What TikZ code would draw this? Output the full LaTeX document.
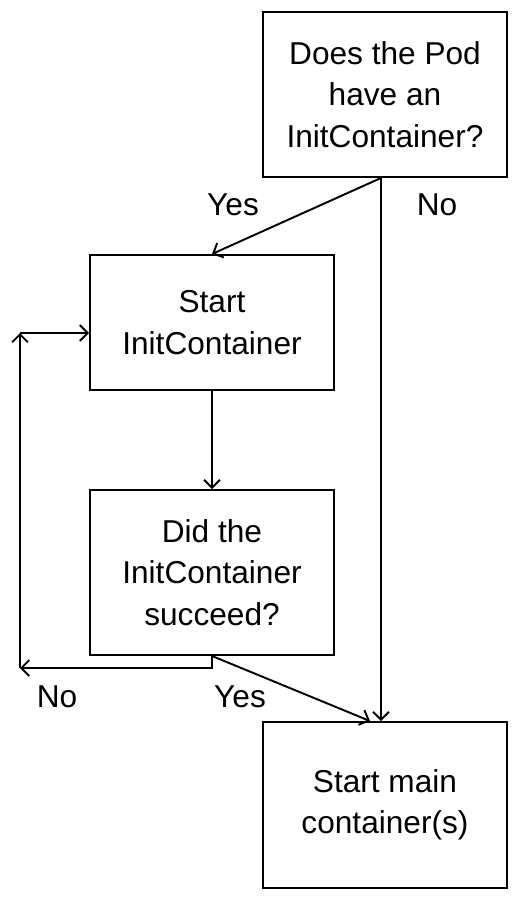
\documentclass[tikz,border=0pt]{standalone}
\usepackage{fontspec}
\setmainfont{Liberation Sans}
\usepackage{tikz}
\usetikzlibrary{arrows.meta}
\tikzset{
	step box/.style={rectangle,draw,line width=1.1pt,minimum width=4.88cm,align=center,
		font=\fontsize{18}{23.5}\selectfont},
	answer/.style={font=\fontsize{18}{22}\selectfont}
}

\begin{document}
\begin{tikzpicture}[->,>={Straight Barb[length=4.5pt,width=9pt]},line width=1.1pt]
	\useasboundingbox (0,0) rectangle (10.38,-17.98);
	\node [step box,minimum height=3.3cm] (pod) at (7.7,-1.89) {Does the Pod\\have an\\InitContainer?};
	\node [step box,minimum height=2.7cm] (init) at (4.24,-6.45) {Start\\InitContainer};
	\node [step box,minimum height=3.3cm] (ok) at (4.24,-11.45) {Did the\\InitContainer\\succeed?};
	\node [step box,minimum height=3.32cm] (main) at (7.7,-16.1) {Start main\\container(s)};
	\coordinate (loopbot) at (0.4,-13.36);
	\coordinate (looptop) at (0.4,-6.66);
	% edges
	\draw ([xshift=-0.08cm]pod.south) -- (init.north);
	\draw ([xshift=-0.08cm]pod.south) -- ([xshift=-0.08cm]main.north);
	\draw (init) -- (ok);
	\draw (ok.south) |- (loopbot);
	\draw (loopbot) -- (looptop);
	\draw (looptop) -- (looptop -| init.west);
	\draw (ok.south) -- ([xshift=-0.3cm]main.north);
	% labels
	\node [answer] (yes1) at (4.66,-4.1) {Yes};
	\node [answer] (no1) at (8.74,-4.1) {No};
	\node [answer] (no2) at (1.14,-13.94) {No};
	\node [answer] (yes2) at (4.8,-13.94) {Yes};
\end{tikzpicture}
\end{document}
